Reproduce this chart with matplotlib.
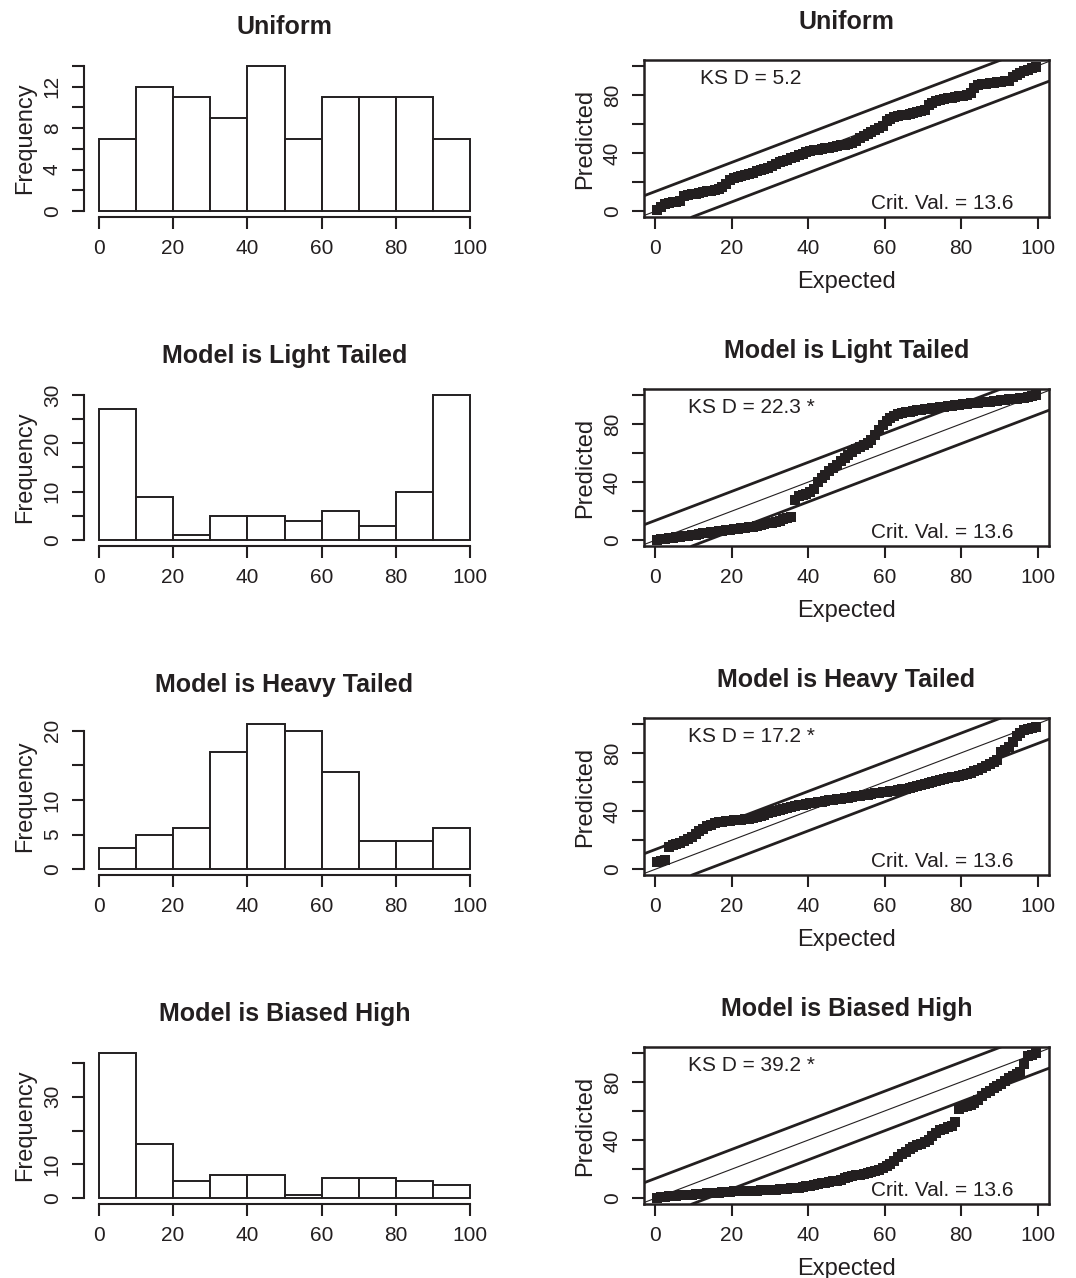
import matplotlib.pyplot as plt
import numpy as np

plt.rcParams['font.family'] = ['Liberation Sans', 'DejaVu Sans']

INK = '#231f20'

titles = ["Uniform", "Model is Light Tailed", "Model is Heavy Tailed", "Model is Biased High"]
ks_labels = ["KS D = 5.2", "KS D = 22.3 *", "KS D = 17.2 *", "KS D = 39.2 *"]
crit_val = 13.6

bin_edges = [0, 10, 20, 30, 40, 50, 60, 70, 80, 90, 100]

# histogram counts per 10-unit bin
counts_uniform = [7, 12, 11, 9, 14, 7, 11, 11, 11, 7]
counts_light = [27, 9, 1, 5, 5, 4, 6, 3, 10, 30]
counts_heavy = [3, 5, 6, 17, 21, 20, 14, 4, 4, 6]
counts_biased = [43, 16, 5, 7, 7, 1, 6, 6, 5, 4]

# y ticks and which ones carry a label
hist_yticks = [list(range(0, 15, 2)), list(range(0, 31, 5)),
               list(range(0, 21, 5)), list(range(0, 41, 10))]
hist_ylabels = [["0", "", "4", "", "8", "", "12", ""],
                 ["0", "", "10", "", "20", "", "30"],
                 ["0", "5", "10", "", "20"],
                 ["0", "10", "", "30", ""]]

# sorted predicted values (100 per model)
pred_uniform = [
    0.8, 2.9, 4.6, 5.9, 6.2, 6.5, 6.9,
    10.2, 10.9, 11.5, 12.0, 12.6, 13.1, 13.6, 14.1, 14.6, 15.2, 16.5, 18.6,
    21.5, 22.6, 23.4, 24.2, 24.9, 25.6, 26.4, 27.3, 28.1, 28.9, 29.6,
    31.0, 32.5, 33.6, 34.6, 35.5, 36.6, 37.5, 38.4, 39.3,
    40.4, 41.2, 41.8, 42.3, 42.8, 43.3, 43.8, 44.3, 44.8, 45.3, 45.8, 46.4, 47.1, 48.3,
    50.3, 51.6, 53.0, 54.4, 55.7, 57.2, 58.8,
    61.8, 63.4, 64.6, 65.3, 65.9, 66.4, 66.9, 67.4, 68.0, 68.6, 69.3,
    72.8, 74.7, 75.6, 76.4, 77.1, 77.7, 78.1, 78.5, 78.9, 79.3, 79.7,
    81.5, 84.5, 86.8, 87.4, 87.8, 88.1, 88.4, 88.7, 89.0, 89.3, 89.6,
    92.4, 93.8, 95.0, 96.1, 97.2, 98.3, 99.4]
pred_light = [
    0.3, 0.6, 0.9, 1.3, 1.6, 2.0, 2.4, 2.7, 3.1, 3.4,
    3.8, 4.2, 4.6, 5.0, 5.4, 5.8, 6.2, 6.6, 7.0, 7.3,
    7.7, 8.0, 8.4, 8.7, 9.0, 9.4, 9.8,
    10.3, 10.9, 11.5, 12.1, 12.8, 13.5, 14.3, 15.1, 16.0,
    27.5,
    30.2, 31.0, 32.0, 33.4, 35.5,
    40.0, 42.6, 45.0, 47.3, 49.4,
    52.0, 54.6, 56.8, 58.9,
    60.8, 62.4, 63.9, 65.4, 67.0, 68.9,
    72.5, 76.0, 79.2,
    82.0, 84.0, 85.5, 86.6, 87.4, 88.0, 88.5, 88.9, 89.3, 89.7,
    90.2, 90.5, 90.9, 91.2, 91.6, 91.9, 92.3, 92.6, 93.0, 93.3,
    93.6, 93.8, 94.1, 94.4, 94.6, 94.9, 95.2, 95.4, 95.7, 96.0,
    96.2, 96.5, 96.8, 97.1, 97.4, 97.7, 98.1, 98.5, 99.0, 99.6]
pred_heavy = [
    4.8, 5.6, 6.4,
    15.6, 16.5, 17.2, 18.0, 19.1,
    20.6, 22.3, 24.1, 26.0, 27.9, 29.6,
    30.6, 31.5, 32.2, 32.7, 33.1, 33.4, 33.6, 33.8, 34.0, 34.3, 34.7, 35.2, 35.9, 36.7, 37.6, 38.5, 39.4,
    40.2, 41.0, 41.7, 42.3, 42.9, 43.4, 43.9, 44.4, 44.9, 45.3, 45.7, 46.1, 46.5, 46.9, 47.3, 47.7, 48.1, 48.5, 48.9, 49.3, 49.7,
    50.1, 50.5, 50.9, 51.3, 51.7, 52.1, 52.5, 52.9, 53.3, 53.7, 54.1, 54.5, 55.0, 55.5, 56.0, 56.6, 57.2, 57.9, 58.6, 59.4,
    60.2, 60.9, 61.5, 62.1, 62.6, 63.1, 63.6, 64.2, 64.8, 65.5, 66.3, 67.2, 68.2, 69.3,
    71.0, 72.4, 73.6, 74.8,
    80.4, 82.0, 84.2, 87.5,
    91.8, 94.0, 95.6, 96.6, 97.2, 97.8]
pred_biased = [
    0.3, 0.6, 0.9, 1.2, 1.5, 1.7, 1.9, 2.1, 2.3, 2.5,
    2.7, 2.9, 3.1, 3.3, 3.5, 3.7, 3.9, 4.1, 4.3, 4.5,
    4.6, 4.7, 4.8, 4.9, 5.0, 5.1, 5.2, 5.3, 5.4, 5.5,
    5.6, 5.8, 6.0, 6.2, 6.4, 6.7, 7.0, 7.3, 7.7, 8.1,
    8.6, 9.1, 9.6,
    10.2, 10.6, 11.0, 11.5, 12.1, 12.8, 13.6, 14.4, 15.1, 15.7, 16.2, 16.7, 17.3, 18.0, 18.8, 19.6,
    21.0, 22.3, 23.5, 25.5, 28.5,
    30.5, 32.0, 33.6, 35.0, 36.4, 37.6, 38.8,
    40.3, 42.5, 44.8, 46.6, 47.8, 48.8, 49.7,
    52.4,
    61.5, 62.8, 63.6, 64.3, 65.4, 67.5,
    70.2, 72.3, 74.0, 75.6, 77.0, 78.5,
    80.6, 82.4, 84.0, 85.3, 86.6,
    92.0, 97.5, 98.6, 99.6]

all_counts = [counts_uniform, counts_light, counts_heavy, counts_biased]
all_pred = [pred_uniform, pred_light, pred_heavy, pred_biased]

W, H = 1076, 1278
fig = plt.figure(figsize=(W / 100, H / 100), dpi=100)

row_tops = [60, 389, 718, 1047]
ax_h = 157


def px_axes(x0, top, w, h):
    return fig.add_axes([x0 / W, 1 - (top + h) / H, w / W, h / H])


def style_ticks(ax):
    ax.tick_params(axis='both', direction='out', length=8.5, width=1.5,
                   color=INK, labelcolor=INK, labelsize=15, pad=7.5)
    for lab in ax.get_yticklabels():
        lab.set_rotation(90)
        lab.set_va('center')


for row in range(4):
    top = row_tops[row]
    counts = all_counts[row]
    pred = np.array(all_pred[row])
    ymax = max(counts)

    # --- histogram on the left ---
    ax = px_axes(84, top, 401, ax_h)
    ax.bar(bin_edges[:-1], counts, width=10, align='edge',
           facecolor='white', edgecolor=INK, linewidth=1.4)
    ax.set_xlim(-4, 104)
    ax.set_ylim(-0.04 * ymax, 1.04 * ymax)
    for side in ['top', 'right']:
        ax.spines[side].set_visible(False)
    ax.spines['left'].set_bounds(0, hist_yticks[row][-1])
    ax.spines['bottom'].set_bounds(0, 100)
    for side in ['left', 'bottom']:
        ax.spines[side].set_linewidth(1.5)
        ax.spines[side].set_color(INK)
    ax.set_xticks([0, 20, 40, 60, 80, 100])
    ax.set_yticks(hist_yticks[row])
    ax.set_yticklabels(hist_ylabels[row])
    style_ticks(ax)
    ax.set_ylabel("Frequency", fontsize=17, color=INK)
    ax.yaxis.set_label_coords(-48 / 401, 0.5)
    ax.set_title(titles[row], fontsize=18, fontweight='bold', color=INK, pad=18.5)

    # --- ranked predictions against expected percentiles on the right ---
    expected = np.arange(1, len(pred) + 1) - 0.5
    ax2 = px_axes(644, top, 405, ax_h)
    ax2.set_xlim(-3, 103)
    ax2.set_ylim(-4, 104)
    ax2.axline((0, crit_val), slope=1, color=INK, linewidth=2.0)
    ax2.axline((0, -crit_val), slope=1, color=INK, linewidth=2.0)
    ax2.axline((0, 0), slope=1, color=INK, linewidth=0.8)
    ax2.plot(expected, pred, linestyle='none', marker='s', markersize=6.5,
             color=INK, markeredgewidth=0)
    ax2.text(25, 91, ks_labels[row], fontsize=15, color=INK,
             ha='center', va='center')
    ax2.text(75, 5, "Crit. Val. = %.1f" % crit_val, fontsize=15, color=INK,
             ha='center', va='center')
    for sp in ax2.spines.values():
        sp.set_linewidth(1.8)
        sp.set_color(INK)
    ax2.set_xticks([0, 20, 40, 60, 80, 100])
    ax2.set_yticks([0, 20, 40, 60, 80, 100])
    ax2.set_yticklabels(["0", "", "40", "", "80", ""])
    style_ticks(ax2)
    ax2.set_ylabel("Predicted", fontsize=17, color=INK)
    ax2.yaxis.set_label_coords(-48 / 405, 0.5)
    ax2.set_xlabel("Expected", fontsize=17, color=INK)
    ax2.xaxis.set_label_coords(0.5, -54 / ax_h)
    ax2.set_title(titles[row], fontsize=18, fontweight='bold', color=INK, pad=22.5)

fig.savefig("out.png", dpi=100)
